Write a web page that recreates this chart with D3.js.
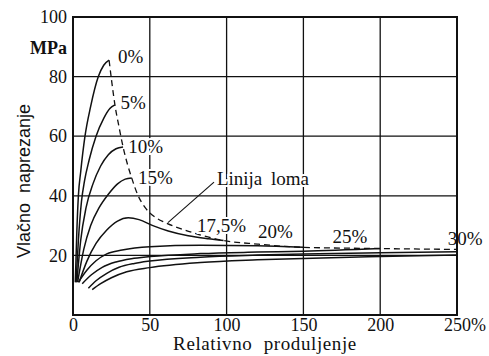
<!DOCTYPE html>
<html>
<head>
<meta charset="utf-8">
<script src="https://cdn.jsdelivr.net/npm/d3@7"></script>
<style>
  body { margin: 0; background: #fff; }
</style>
</head>
<body>
<svg id="chart" width="489" height="356"></svg>
<script>
// tick values
const xTicks = [0, 50, 100, 150, 200, 250];
const yTicks = [20, 40, 60, 80, 100];

// stress-strain curves, [elongation %, stress MPa]
const curve0 = [[1.5, 11], [2.5, 28], [3.5, 40], [5, 48], [7.8, 60], [11.5, 70], [16.5, 80], [20, 83.8], [23.5, 85.5]];
const curve5 = [[2, 11], [3.5, 25], [5.5, 38], [7.5, 45], [10.5, 52], [15, 60], [20, 66], [24, 69.3], [27.3, 70.5]];
const curve10 = [[2.5, 11], [5, 25], [8.5, 36], [13, 44], [18, 50], [23, 53.8], [28, 55.8], [32.6, 56.4]];
const curve15 = [[3, 11], [7, 22], [11.5, 30], [17, 36], [23, 40.5], [29, 44], [34, 45.6], [38.2, 46]];
const curve175 = [[4, 11], [9, 18], [15, 24], [22, 28.5], [29, 31.5], [36, 32.6], [43, 32], [52, 30], [62, 28.2], [75, 26.6], [88, 25.6], [98, 25]];
const curve20 = [[3.5, 11], [9, 15], [15, 18.2], [22, 20.5], [32, 21.8], [50, 22.9], [83, 23.4], [120, 23.2], [150, 22.7]];
const curve25 = [[6, 10.5], [12, 13.5], [19, 16], [28, 17.8], [38, 18.9], [50, 19.6], [83, 20.6], [120, 21.1], [150, 21.4], [200, 22.3]];
const curve30 = [[10, 9], [15, 11.5], [22, 14], [30, 16], [40, 17.3], [50, 18.1], [83, 19.4], [120, 20.1], [150, 20.5], [200, 20.9], [250, 21.2]];
const curve35 = [[12.5, 8.5], [18, 10.5], [25, 12.5], [35, 14.5], [50, 15.9], [83, 17.6], [120, 18.5], [150, 19], [200, 19.6], [250, 20.1]];

// "Linija loma" - break line through curve ends
const breakLine = [[23.5, 85.5], [25.3, 78], [27.3, 70.5], [30, 63], [32.6, 56.4], [35.5, 50.5], [38.2, 46], [42, 40.5], [47, 36], [53, 33], [60, 31], [70, 29], [82, 27], [98, 25], [120, 23.8], [150, 22.7], [200, 22.3], [250, 22]];

const curveNames = ['0%', '5%', '10%', '15%', '17,5%', '20%', '25%', '30%'];

const SERIF = '"Liberation Serif"';
const SANS = '"Liberation Sans"';

const svg = d3.select('#chart');
const margin = { left: 73, right: 32, top: 17, bottom: 41 };
const W = +svg.attr('width'), H = +svg.attr('height');

const x = d3.scaleLinear().domain([0, 250]).range([margin.left, W - margin.right]);
const y = d3.scaleLinear().domain([0, 100]).range([H - margin.bottom, margin.top]);

/// grid
const grid = svg.append('g').attr('stroke', '#111').attr('stroke-width', 1.3);
grid.selectAll('.vx').data(xTicks.slice(1, -1)).enter().append('line')
  .attr('x1', d => x(d)).attr('x2', d => x(d)).attr('y1', y(0)).attr('y2', y(100));
grid.selectAll('.hy').data(yTicks.slice(0, -1)).enter().append('line')
  .attr('x1', x(0)).attr('x2', x(250)).attr('y1', d => y(d)).attr('y2', d => y(d));

/// curves
const line = d3.line().x(d => x(d[0])).y(d => y(d[1])).curve(d3.curveMonotoneX);
svg.append('g').selectAll('path')
  .data([curve0, curve5, curve10, curve15, curve175, curve20, curve25, curve30, curve35])
  .enter().append('path')
  .attr('d', line).attr('fill', 'none').attr('stroke', '#111').attr('stroke-width', 1.5);

svg.append('path').datum(breakLine)
  .attr('d', line).attr('fill', 'none').attr('stroke', '#111')
  .attr('stroke-width', 1.3).attr('stroke-dasharray', '6,4');

/// labels with white halo (they cut the grid as in the print)
const labelPos = [[29.3, 84.6], [31, 69], [36, 54.4], [42.3, 44], [80.7, 27.9], [120.4, 25.8], [169, 24.2], [244, 23.5]];
const labels = svg.append('g');
labels.selectAll('text').data(curveNames).enter().append('text')
  .attr('x', (d, i) => x(labelPos[i][0])).attr('y', (d, i) => y(labelPos[i][1]))
  .attr('font-size', 19).style('font-family', SERIF).attr('fill', '#111')
  .attr('stroke', '#fff').attr('stroke-width', 4).attr('paint-order', 'stroke')
  .text(d => d);

// leader + caption for the break line
svg.append('line')
  .attr('x1', x(91.8)).attr('y1', y(44.6)).attr('x2', x(61.8)).attr('y2', y(31))
  .attr('stroke', '#111').attr('stroke-width', 1.1);
labels.append('text')
  .attr('x', x(93.7)).attr('y', y(43.6)).attr('font-size', 19).style('font-family', SERIF).attr('fill', '#111')
  .attr('stroke', '#fff').attr('stroke-width', 4).attr('paint-order', 'stroke')
  .attr('word-spacing', 4)
  .text('Linija loma');

/// frame
svg.append('rect')
  .attr('x', x(0)).attr('y', y(100)).attr('width', x(250) - x(0)).attr('height', y(0) - y(100))
  .attr('fill', 'none').attr('stroke', '#111').attr('stroke-width', 2);

/// axes
const xAxis = svg.append('g').attr('transform', `translate(0,${y(0)})`)
  .call(d3.axisBottom(x).tickValues(xTicks).tickSize(0).tickPadding(3));
const yAxis = svg.append('g').attr('transform', `translate(${x(0)},0)`)
  .call(d3.axisLeft(y).tickValues(yTicks).tickSize(0).tickPadding(6));
[xAxis, yAxis].forEach(a => {
  a.attr('font-family', null);
  a.select('.domain').remove();
  a.selectAll('text').attr('font-size', 18).style('font-family', SERIF).attr('fill', '#111');
});
// "250%" : number centred on the tick, % hanging to the right
const last = xAxis.selectAll('.tick text').filter(d => d === 250);
const w250 = last.node().getComputedTextLength();
last.attr('text-anchor', 'start').attr('x', -w250 / 2).text('250%');

yAxis.append('text')
  .attr('x', -6).attr('y', y(89.5)).attr('dy', '0.32em')
  .attr('text-anchor', 'end').attr('font-size', 18).attr('font-weight', 'bold')
  .style('font-family', SERIF).attr('fill', '#111')
  .text('MPa');

/// axis titles
svg.append('text')
  .attr('x', (x(0) + x(250)) / 2).attr('y', 350)
  .attr('text-anchor', 'middle').attr('font-size', 19).attr('word-spacing', 6)
  .attr('letter-spacing', 0.6).style('font-family', SERIF).attr('fill', '#111')
  .text('Relativno produljenje');

svg.append('text')
  .attr('transform', `translate(30,181) rotate(-90)`)
  .attr('text-anchor', 'middle').attr('font-size', 18).attr('word-spacing', 5)
  .style('font-family', SANS).attr('fill', '#111')
  .text('Vlačno naprezanje');
</script>
</body>
</html>
